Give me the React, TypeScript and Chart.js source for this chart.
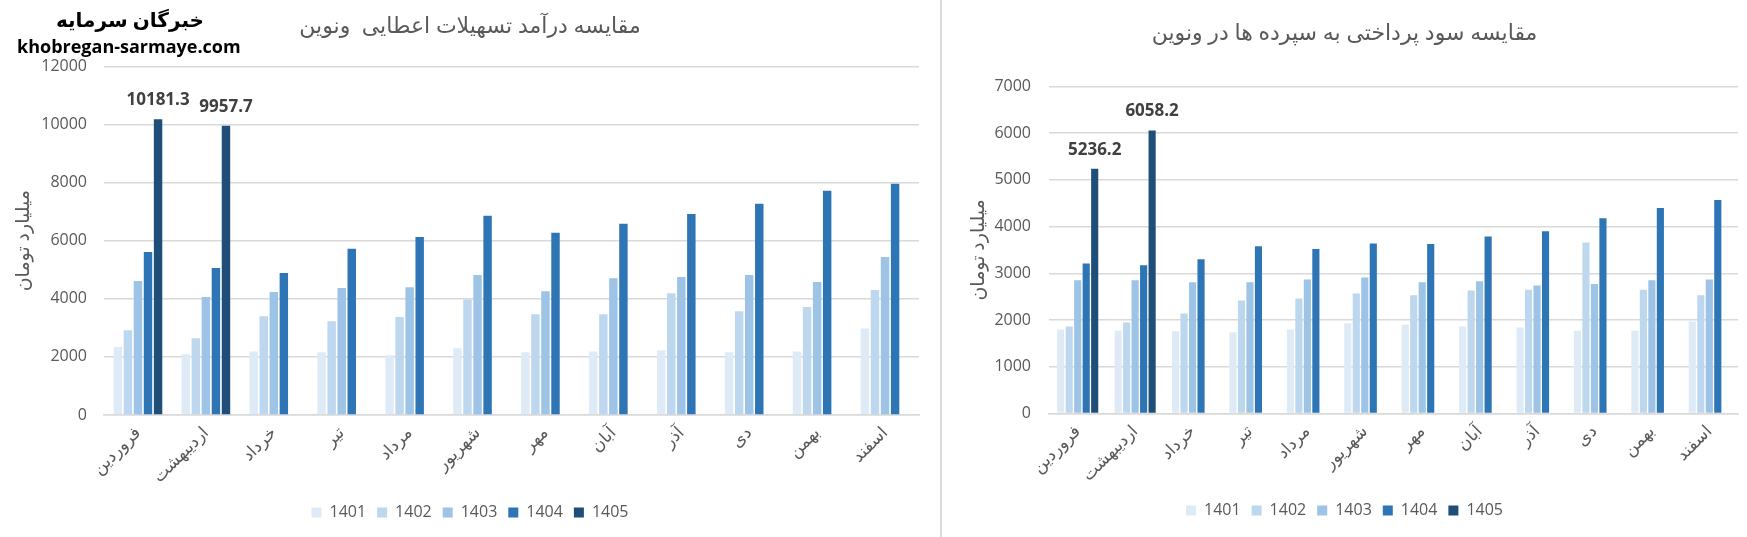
import { useEffect, useRef } from 'react';
import { Chart, registerables } from 'chart.js';

Chart.register(...registerables);

const months = ['فروردین', 'اردیبهشت', 'خرداد', 'تیر', 'مرداد', 'شهریور', 'مهر', 'آبان', 'آذر', 'دی', 'بهمن', 'اسفند'];
const years = ['1401', '1402', '1403', '1404', '1405'];
const colors = ['#deebf7', '#bdd7ee', '#9dc3e6', '#2e75b6', '#1f4e79'];
const yTitle = 'میلیارد تومان';

// left chart: loan income
const incomeTitle = 'مقایسه درآمد تسهیلات اعطایی  ونوین';
const income1401 = [2340, 2090, 2190, 2160, 2060, 2300, 2160, 2190, 2230, 2160, 2190, 2980];
const income1402 = [2920, 2640, 3400, 3230, 3370, 3980, 3470, 3470, 4190, 3570, 3720, 4300];
const income1403 = [4610, 4060, 4230, 4370, 4400, 4820, 4260, 4710, 4750, 4820, 4580, 5440];
const income1404 = [5610, 5060, 4890, 5720, 6130, 6860, 6270, 6580, 6920, 7270, 7720, 7960];
const income1405 = [10181.3, 9957.7, null, null, null, null, null, null, null, null, null, null];
const incomeTicks = { max: 12000, step: 2000 };

// right chart: interest paid on deposits
const interestTitle = 'مقایسه سود پرداختی به سپرده ها در ونوین';
const interest1401 = [1800, 1770, 1760, 1740, 1800, 1930, 1900, 1860, 1840, 1770, 1770, 1970];
const interest1402 = [1860, 1950, 2140, 2420, 2460, 2570, 2530, 2630, 2650, 3660, 2650, 2530];
const interest1403 = [2850, 2850, 2810, 2810, 2870, 2910, 2810, 2830, 2740, 2770, 2850, 2870];
const interest1404 = [3210, 3170, 3300, 3580, 3520, 3640, 3630, 3790, 3900, 4180, 4400, 4570];
const interest1405 = [5236.2, 6058.2, null, null, null, null, null, null, null, null, null, null];
const interestTicks = { max: 7000, step: 1000 };

const FONT = "'Open Sans', 'DejaVu Sans', sans-serif";
const GREY = '#595959';
const GRID = '#d9d9d9';

// bold value labels above the 1405 bars
const valueLabels = {
  id: 'valueLabels',
  afterDatasetsDraw(chart: any) {
    const meta = chart.getDatasetMeta(4);
    const data = chart.data.datasets[4].data;
    const ctx = chart.ctx;
    ctx.save();
    ctx.font = `bold 17px ${FONT}`;
    ctx.fillStyle = '#404040';
    ctx.textAlign = 'center';
    ctx.textBaseline = 'middle';
    meta.data.forEach((bar: any, i: number) => {
      if (data[i] == null) return;
      ctx.fillText(String(data[i]), bar.x, bar.y - 19);
    });
    ctx.restore();
  },
};

interface PanelProps {
  title: string;
  series: (number | null)[][];
  ticks: { max: number; step: number };
  yWidth: number;
  tickPad: number;
  yTitlePad: number;
  plotRightGap: number;
  padBottom: number;
  titlePad: { top: number; bottom: number };
  xHeight: number;
}

function Panel(p: PanelProps) {
  const canvasRef = useRef<HTMLCanvasElement>(null);

  useEffect(() => {
    if (!canvasRef.current) return;
    const chart = new Chart(canvasRef.current, {
      type: 'bar',
      data: {
        labels: months,
        datasets: years.map((y, i) => ({
          label: y,
          data: p.series[i],
          backgroundColor: colors[i],
          categoryPercentage: 0.74,
          barPercentage: 0.84,
        })),
      },
      options: {
        animation: false,
        responsive: true,
        maintainAspectRatio: false,
        layout: { padding: { left: 0, top: 0, right: 0, bottom: p.padBottom } },
        plugins: {
          tooltip: { enabled: false },
          title: {
            display: true,
            text: p.title,
            color: GREY,
            font: { family: FONT, size: 22, weight: 'normal' },
            padding: p.titlePad,
          },
          legend: {
            position: 'bottom',
            labels: {
              color: GREY,
              font: { family: FONT, size: 16 },
              boxWidth: 10,
              boxHeight: 10,
              padding: 11,
            },
          },
        },
        scales: {
          x: {
            grid: { display: false, drawTicks: false },
            border: { display: true, color: GRID, width: 1.5 },
            ticks: { color: GREY, font: { family: FONT, size: 17 }, minRotation: 45, maxRotation: 45, padding: 8 },
            afterFit: (axis: any) => {
              axis.height = p.xHeight;
              axis.paddingRight = p.plotRightGap;
            },
          },
          y: {
            min: 0,
            max: p.ticks.max,
            grid: { color: GRID, lineWidth: 1.5, drawTicks: false },
            border: { display: false },
            ticks: {
              stepSize: p.ticks.step,
              color: GREY,
              font: { family: FONT, size: 16 },
              padding: p.tickPad,
              callback: (v: any) => String(v),
            },
            title: {
              display: true,
              text: yTitle,
              color: GREY,
              font: { family: FONT, size: 19 },
              padding: { top: p.yTitlePad, bottom: 0 },
            },
            afterFit: (axis: any) => { axis.width = p.yWidth; },
          },
        },
      },
      plugins: [valueLabels],
    } as any);
    return () => { chart.destroy(); };
  }, [p]);

  return <canvas ref={canvasRef} />;
}

const leftProps: PanelProps = {
  title: incomeTitle,
  series: [income1401, income1402, income1403, income1404, income1405],
  ticks: incomeTicks,
  yWidth: 104,
  tickPad: 17,
  yTitlePad: 12,
  plotRightGap: 21,
  padBottom: 6.5,
  titlePad: { top: 14, bottom: 26 },
  xHeight: 78.5,
};

const rightProps: PanelProps = {
  title: interestTitle,
  series: [interest1401, interest1402, interest1403, interest1404, interest1405],
  ticks: interestTicks,
  yWidth: 107,
  tickPad: 18,
  yTitlePad: 25,
  plotRightGap: 9,
  padBottom: 8.5,
  titlePad: { top: 21, bottom: 39 },
  xHeight: 78,
};

export default function App() {
  return (
    <div style={{ position: 'absolute', left: 0, top: 0, width: 1747, height: 537, background: '#fff', overflow: 'hidden' }}>
      <div style={{ position: 'absolute', left: 0, top: 0, width: 940, height: 537 }}>
        <Panel {...leftProps} />
      </div>
      <div style={{ position: 'absolute', left: 942, top: 0, width: 805, height: 537 }}>
        <Panel {...rightProps} />
      </div>
      <div style={{ position: 'absolute', left: 940, top: 0, width: 2, height: 537, background: GRID }} />
      <div style={{ position: 'absolute', left: 0, top: 6, width: 260, textAlign: 'center', fontFamily: FONT, fontWeight: 'bold', fontSize: 20, color: '#000', direction: 'rtl' }}>
        خبرگان سرمایه
      </div>
      <div style={{ position: 'absolute', left: 17, top: 34, fontFamily: FONT, fontWeight: 'bold', fontSize: 18, color: '#000' }}>
        khobregan-sarmaye.com
      </div>
    </div>
  );
}
